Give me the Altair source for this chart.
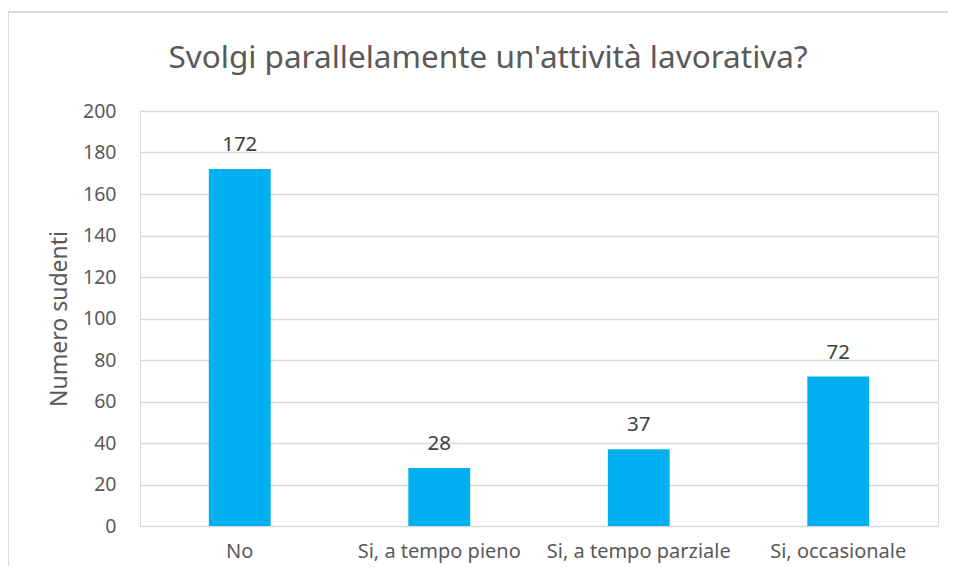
import altair as alt
import pandas as pd

categories = ["No", "Si, a tempo pieno", "Si, a tempo parziale", "Si, occasionale"]
values = [172, 28, 37, 72]
y_ticks = [0, 20, 40, 60, 80, 100, 120, 140, 160, 180, 200]
title_text = "Svolgi parallelamente un'attività lavorativa?"

df = pd.DataFrame({"cat": categories, "val": values})

FONT = "Noto Sans"
GRAY = "#595959"

x_enc = alt.X("cat:N", sort=categories, title=None,
              scale=alt.Scale(paddingInner=0.69, paddingOuter=0.345),
              axis=alt.Axis(labelAngle=0, labelFontSize=20, labelColor=GRAY, labelFont=FONT,
                            labelPadding=15, labelLimit=400, labelOverlap=False,
                            ticks=False, domain=False, grid=False))
y_enc = alt.Y("val:Q", title="Numero sudenti",
              scale=alt.Scale(domain=[0, 200], nice=False),
              axis=alt.Axis(values=y_ticks, labelFontSize=19.5, labelColor=GRAY, labelFont=FONT,
                            labelPadding=24, ticks=False, domain=False,
                            gridColor="#d9d9d9", gridWidth=1.3,
                            titleFontSize=23, titleColor=GRAY, titleFont=FONT,
                            titleFontWeight="normal", titlePadding=11))

base = alt.Chart(df)
bars = base.mark_bar(color="#00B0F0").encode(x=x_enc, y=y_enc)
labels = base.mark_text(baseline="bottom", dy=-14, fontSize=20.5, color="#404040", font=FONT).encode(
    x=alt.X("cat:N", sort=categories), y="val:Q", text="val:Q")

title = alt.Chart(pd.DataFrame({"t": [title_text]})).mark_text(
    fontSize=31.5, font=FONT, color=GRAY, align="center", baseline="alphabetic").encode(
    x=alt.value(348), y=alt.value(-43), text="t:N")

frame_left = alt.Chart(df).mark_rule(color="#d9d9d9", strokeWidth=2).encode(
    x=alt.value(-132), y=alt.value(-99), y2=alt.value(470))
frame_top = alt.Chart(df).mark_rule(color="#d9d9d9", strokeWidth=2).encode(
    x=alt.value(-132), x2=alt.value(830), y=alt.value(-99))

chart = alt.layer(frame_left, frame_top, bars, labels, title).properties(
    width=798, height=415,
    padding={"left": 132, "top": 103, "right": 10, "bottom": 40},
    autosize=alt.AutoSizeParams(type="none"),
).configure_view(stroke=None).configure(background="white")

chart.save("out.html", embed_options={"renderer": "svg", "actions": False})
